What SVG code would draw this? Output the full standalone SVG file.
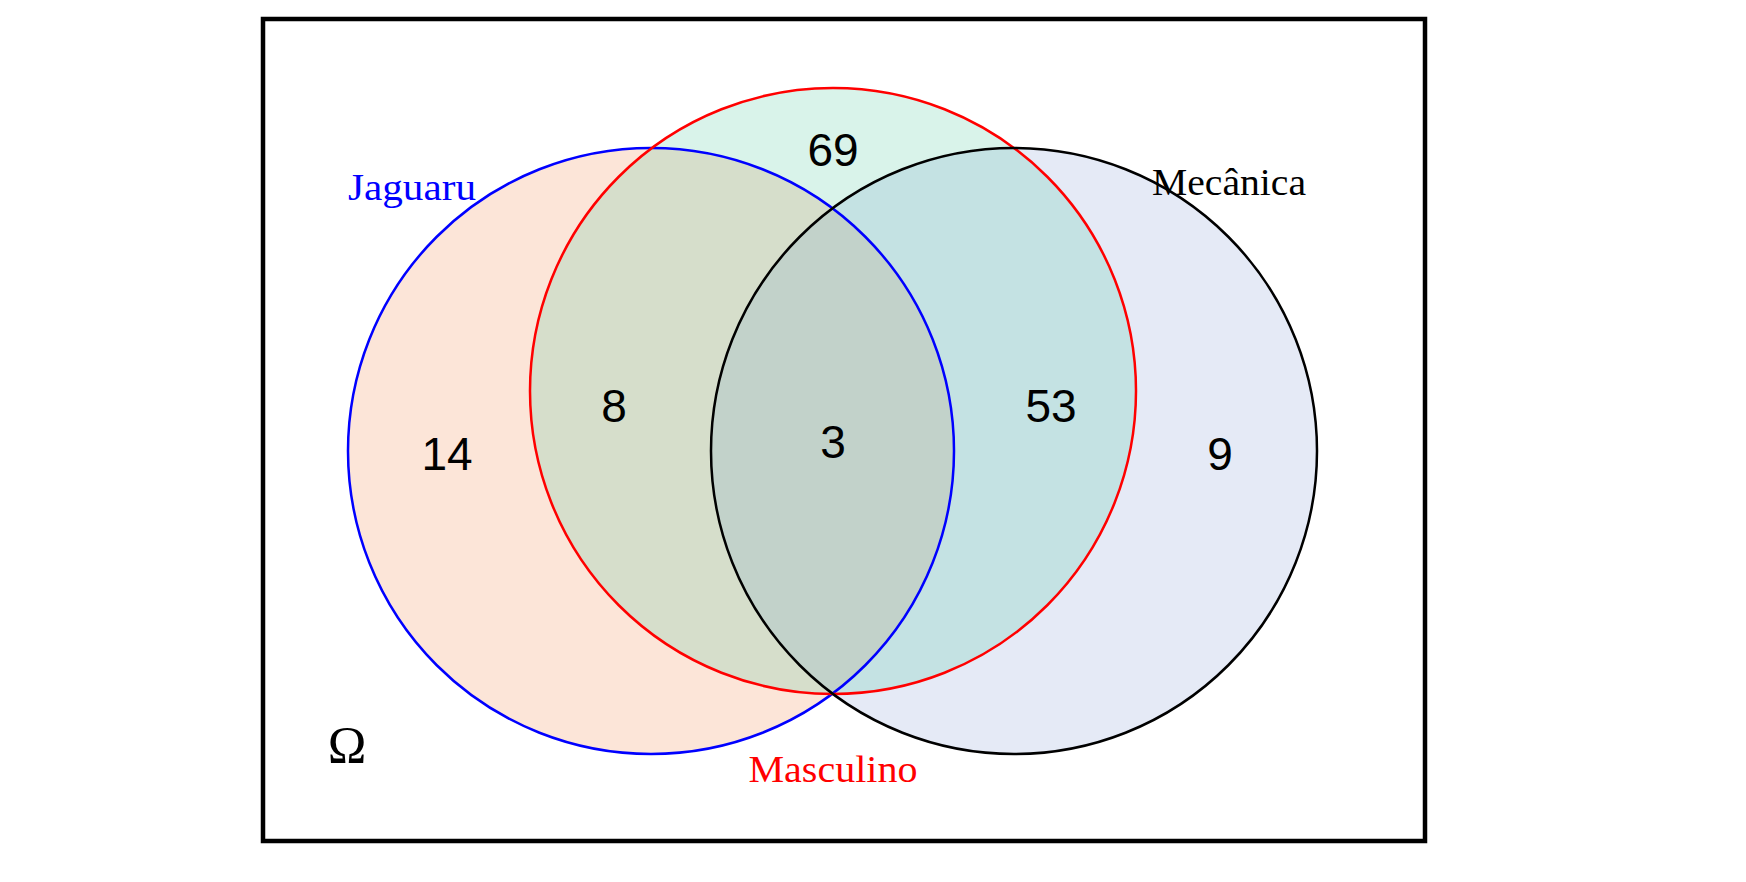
<svg xmlns="http://www.w3.org/2000/svg" width="1746" height="882" viewBox="0 0 1746 882">
<style>
.num{font-family:"Liberation Sans",Arial,sans-serif;font-size:46px;text-anchor:middle;fill:#000}
.lbl{font-family:"Liberation Serif","Times New Roman",serif;font-size:38px;text-anchor:middle}
.f{stroke:none;fill-opacity:0.22}
.o{fill:none;stroke-width:2.5}
</style>
<rect width="1746" height="882" fill="#fff"/>
<rect x="263" y="19" width="1162" height="822" fill="none" stroke="#000" stroke-width="4.5"/>
<g id="jaguaru"><circle class="f" cx="651" cy="451" r="303" fill="#f08a4f"/></g>
<g id="mecanica"><circle class="f" cx="1014" cy="451" r="303" fill="#8aa0d6"/></g>
<g id="masculino"><circle class="f" cx="833" cy="391" r="303" fill="#52c7a0"/></g>
<g id="outlines">
<circle class="o" cx="651" cy="451" r="303" stroke="#0000ff"/>
<circle class="o" cx="833" cy="391" r="303" stroke="#ff0000"/>
<circle class="o" cx="1014" cy="451" r="303" stroke="#000"/>
</g>
<g id="connectors"></g>
<g id="labels">
<text class="num" x="833" y="166">69</text>
<text class="num" x="614" y="422">8</text>
<text class="num" x="833" y="458">3</text>
<text class="num" x="1051" y="422">53</text>
<text class="num" x="447" y="470">14</text>
<text class="num" x="1220" y="470">9</text>
<text class="lbl" x="412" y="200" fill="#0000ff" textLength="128" lengthAdjust="spacingAndGlyphs">Jaguaru</text>
<text class="lbl" x="1229" y="195" fill="#000" textLength="154" lengthAdjust="spacingAndGlyphs">Mecânica</text>
<text class="lbl" x="833" y="782" fill="#ff0000" textLength="169" lengthAdjust="spacingAndGlyphs">Masculino</text>
<text class="lbl" x="347" y="763" style="font-size:52px" fill="#000">Ω</text>
</g>
</svg>
